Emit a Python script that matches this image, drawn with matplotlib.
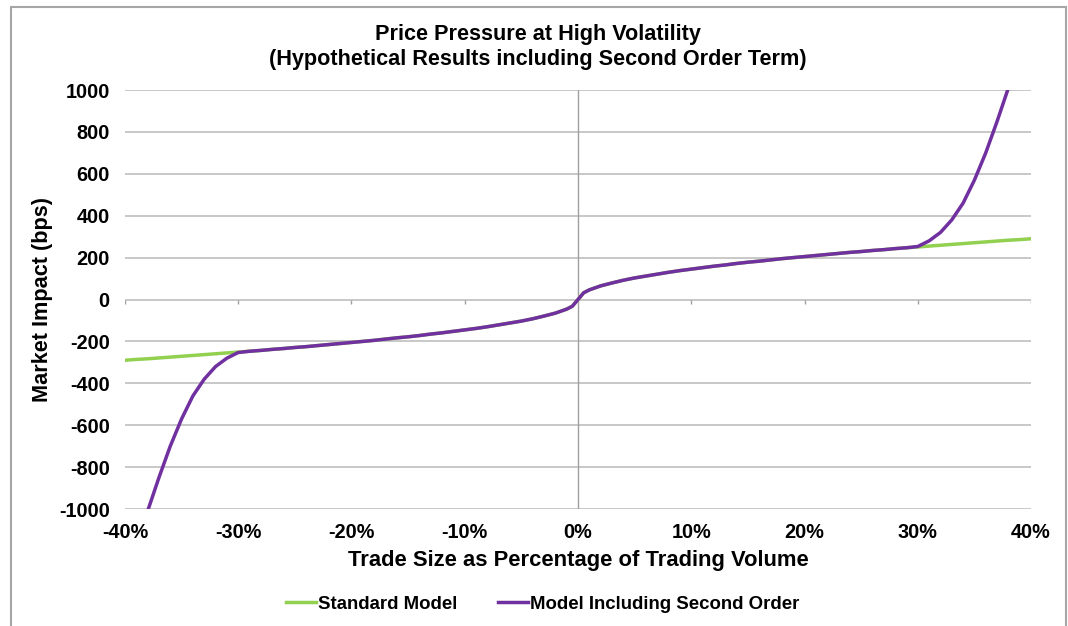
import matplotlib
matplotlib.use("Agg")
import matplotlib.pyplot as plt
from matplotlib.patches import Rectangle

# trade size (% of volume), positive half; the chart is antisymmetric about 0
trade_pos = [0, 0.5, 1, 2, 3, 4, 5, 6, 7, 8, 9, 10, 11, 12, 13, 14, 15, 16, 17, 18, 19, 20,
             21, 22, 23, 24, 25, 26, 27, 28, 29, 30, 31, 32, 33, 34, 35, 36, 37, 38, 39, 40]
standard_pos = [0, 32, 46, 65, 79, 92, 103, 112, 121, 130, 138, 145, 152, 159, 165, 172, 178,
                183, 189, 195, 200, 205, 210, 215, 220, 225, 229, 234, 238, 243, 247, 251,
                255, 259, 263, 267, 271, 275, 279, 283, 286, 290]
second_pos = [0, 32, 46, 65, 79, 92, 103, 112, 121, 130, 138, 145, 152, 159, 165, 172, 178,
              183, 189, 195, 200, 205, 210, 215, 220, 225, 229, 234, 238, 243, 247, 253,
              280, 320, 380, 460, 570, 700, 850, 1010, 1200, 1420]

trade = [-t for t in trade_pos[::-1]] + trade_pos[1:]
standard = [-v for v in standard_pos[::-1]] + standard_pos[1:]
second = [-v for v in second_pos[::-1]] + second_pos[1:]

xticks = [-40, -30, -20, -10, 0, 10, 20, 30, 40]
yticks = [-1000, -800, -600, -400, -200, 0, 200, 400, 600, 800, 1000]

plt.rcParams['font.family'] = ['Liberation Sans', 'DejaVu Sans']
plt.rcParams['font.weight'] = 'bold'
plt.rcParams['axes.unicode_minus'] = False

fig = plt.figure(figsize=(10.68, 6.26), dpi=100)
fig.patches.append(Rectangle((0.0103, -0.02), 0.9877, 1.0088, transform=fig.transFigure,
                             fill=False, edgecolor='#A6A6A6', linewidth=1.5))
ax = fig.add_axes([0.117, 0.1869, 0.8484, 0.6693])

for y in yticks:
    ax.axhline(y, color='#BFBFBF', linewidth=1.2, zorder=1)
ax.axvline(0, color='#A0A0A0', linewidth=1, zorder=1)
ax.vlines([x for x in xticks if x != 0], 0, -22, color='#A0A0A0', linewidth=1, zorder=1)

ax.plot(trade, standard, color='#92D050', linewidth=2.5, label='Standard Model', zorder=3)
ax.plot(trade, second, color='#7030A0', linewidth=2.5,
        label='Model Including Second Order', zorder=4)

ax.set_xlim(-40, 40)
ax.set_ylim(-1000, 1000)
ax.set_xticks(xticks)
ax.set_xticklabels([f"{x}%" for x in xticks])
ax.set_yticks(yticks)
ax.tick_params(length=0, labelsize=14.3)
ax.tick_params(axis='y', pad=11)
ax.tick_params(axis='x', pad=10)
for s in ax.spines.values():
    s.set_visible(False)

ax.set_ylabel('Market Impact (bps)', fontsize=15.6, fontweight='bold')
ax.yaxis.set_label_coords(-0.0795, 0.5)
ax.set_xlabel('Trade Size as Percentage of Trading Volume', fontsize=15.8,
              fontweight='bold', labelpad=6)
fig.text(0.504, 0.925, 'Price Pressure at High Volatility\n'
         '(Hypothetical Results including Second Order Term)',
         ha='center', va='center', fontsize=15.6, fontweight='bold', linespacing=1.2)

fig.legend(loc='center', bbox_to_anchor=(0.508, 0.035), ncol=2, frameon=False,
           fontsize=13.4, handlelength=1.6, handletextpad=0.1, columnspacing=2.2)

fig.savefig('out.png', dpi=100)
